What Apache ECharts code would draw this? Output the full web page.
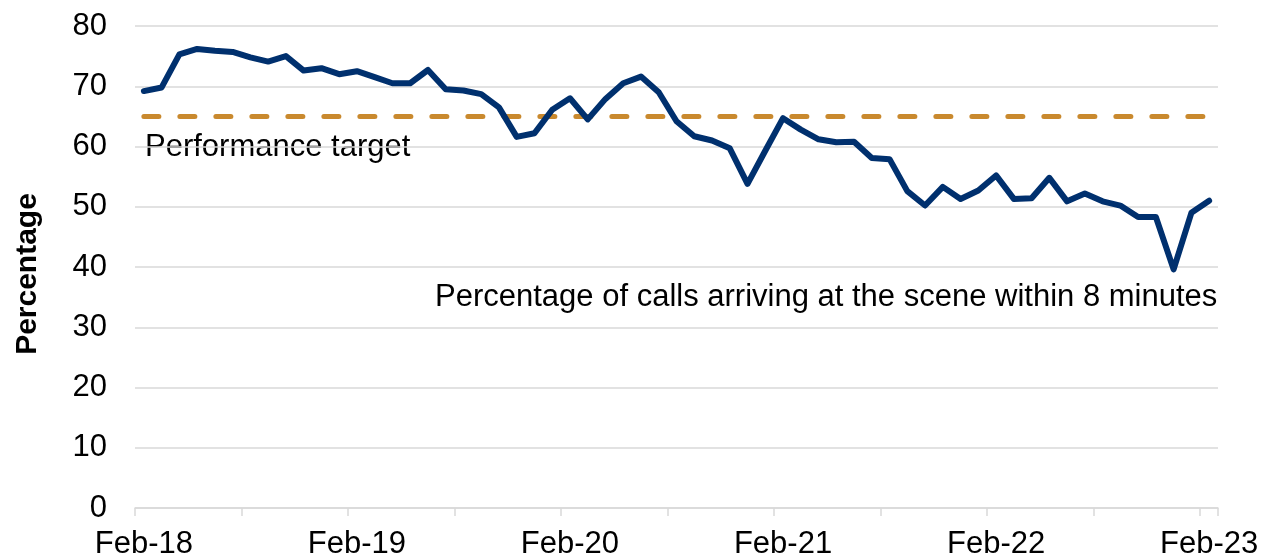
<!DOCTYPE html>
<html>
<head>
<meta charset="utf-8">
<script src="https://cdn.jsdelivr.net/npm/echarts@6/dist/echarts.min.js"></script>
<style>
html,body{margin:0;padding:0;background:#fff;}
#chart{width:1270px;height:560px;}
</style>
</head>
<body>
<div id="chart"></div>
<script>
var months = ['Feb-18','Mar-18','Apr-18','May-18','Jun-18','Jul-18','Aug-18','Sep-18','Oct-18','Nov-18','Dec-18','Jan-19',
'Feb-19','Mar-19','Apr-19','May-19','Jun-19','Jul-19','Aug-19','Sep-19','Oct-19','Nov-19','Dec-19','Jan-20',
'Feb-20','Mar-20','Apr-20','May-20','Jun-20','Jul-20','Aug-20','Sep-20','Oct-20','Nov-20','Dec-20','Jan-21',
'Feb-21','Mar-21','Apr-21','May-21','Jun-21','Jul-21','Aug-21','Sep-21','Oct-21','Nov-21','Dec-21','Jan-22',
'Feb-22','Mar-22','Apr-22','May-22','Jun-22','Jul-22','Aug-22','Sep-22','Oct-22','Nov-22','Dec-22','Jan-23',
'Feb-23'];

var percentWithin8 = [69.2, 69.8, 75.3, 76.2, 75.9, 75.7, 74.8, 74.1, 75.0, 72.6, 73.0, 72.0,
72.5, 71.5, 70.5, 70.5, 72.7, 69.5, 69.3, 68.7, 66.5, 61.6, 62.2, 66.1,
68.0, 64.5, 67.9, 70.5, 71.6, 69.0, 64.2, 61.7, 61.0, 59.7, 53.8, 59.3,
64.7, 62.8, 61.2, 60.7, 60.8, 58.1, 57.9, 52.6, 50.2, 53.3, 51.3, 52.7,
55.2, 51.3, 51.4, 54.8, 50.9, 52.2, 50.9, 50.2, 48.3, 48.3, 39.6, 49.0,
51.0];

var performanceTarget = 65;

var yTicks = {min: 0, max: 80, interval: 10};

var FONT = 'Arial, "Liberation Sans", sans-serif';

var chart = echarts.init(document.getElementById('chart'));
chart.setOption({
  animation: false,
  backgroundColor: '#ffffff',
  grid: {left: 135, right: 52, top: 26, bottom: 51, containLabel: false},
  xAxis: {
    type: 'category',
    data: months,
    boundaryGap: true,
    axisLine: {show: true, lineStyle: {color: '#d9d9d9', width: 1.5}},
    axisTick: {show: true, interval: 5, length: 8, lineStyle: {color: '#d9d9d9', width: 1.5}},
    axisLabel: {interval: 11, margin: 21, color: '#000', fontSize: 31, fontFamily: FONT},
    splitLine: {show: false}
  },
  yAxis: {
    type: 'value',
    min: yTicks.min, max: yTicks.max, interval: yTicks.interval,
    axisLine: {show: false},
    axisTick: {show: false},
    axisLabel: {margin: 28, color: '#000', fontSize: 31, fontFamily: FONT},
    splitLine: {show: true, lineStyle: {color: '#d9d9d9', width: 1.5}}
  },
  graphic: [
    {type: 'text', x: 28, y: 274, rotation: Math.PI / 2,
     style: {text: 'Percentage', fontSize: 30, fontWeight: 'bold', fontFamily: FONT, fill: '#000', align: 'center', verticalAlign: 'middle'}},
    {type: 'text', x: 145, y: 147,
     style: {text: 'Performance target', fontSize: 31, fontFamily: FONT, fill: '#000', align: 'left', verticalAlign: 'middle'}},
    {type: 'text', x: 435, y: 297,
     style: {text: 'Percentage of calls arriving at the scene within 8 minutes', fontSize: 31, fontFamily: FONT, fill: '#000', align: 'left', verticalAlign: 'middle'}}
  ],
  series: [
    {
      type: 'line',
      data: percentWithin8,
      symbol: 'none',
      smooth: false,
      lineStyle: {color: '#00306e', width: 6, join: 'round', cap: 'round'},
      z: 3,
      markLine: {
        silent: true,
        symbol: 'none',
        label: {show: false},
        lineStyle: {color: '#c9892e', width: 5, type: [15, 21], cap: 'round'},
        data: [[{coord: [months[0], performanceTarget]}, {coord: [months[months.length - 1], performanceTarget]}]],
        z: 2
      }
    }
  ]
});
</script>
</body>
</html>
